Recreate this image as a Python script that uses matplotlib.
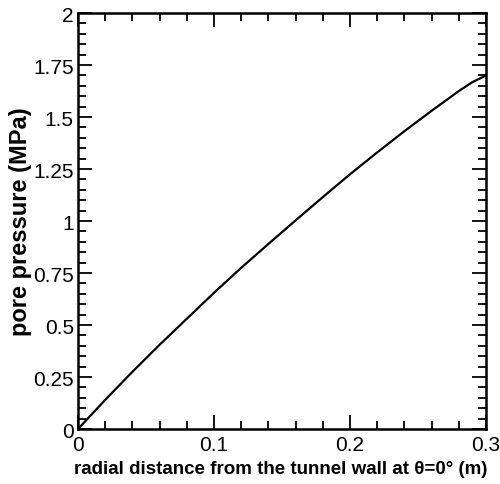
import numpy as np
import matplotlib
matplotlib.use('Agg')
import matplotlib.pyplot as plt
from matplotlib.ticker import MultipleLocator, FuncFormatter

# pore pressure profile
radial_dist = [0.0, 0.02, 0.04, 0.06, 0.08, 0.10, 0.12, 0.14, 0.16,
               0.18, 0.20, 0.22, 0.24, 0.26, 0.28, 0.29, 0.30]
pore_pressure = [0.0, 0.14, 0.275, 0.405, 0.53, 0.655, 0.775, 0.89, 1.003,
                 1.115, 1.225, 1.33, 1.432, 1.53, 1.625, 1.668, 1.70]

plt.rcParams['font.family'] = ['Liberation Sans', 'DejaVu Sans']

fig = plt.figure(figsize=(5.0, 4.85), dpi=100)
ax = fig.add_axes([0.156, 0.1134, 0.816, 0.8576])

ax.plot(radial_dist, pore_pressure, color='black', linewidth=1.6)

ax.set_xlim(0, 0.3)
ax.set_ylim(0, 2)
ax.xaxis.set_major_locator(MultipleLocator(0.1))
ax.xaxis.set_minor_locator(MultipleLocator(0.02))
ax.yaxis.set_major_locator(MultipleLocator(0.25))
ax.yaxis.set_minor_locator(MultipleLocator(0.05))
fmt = FuncFormatter(lambda v, p: '{:g}'.format(round(v, 3)))
ax.xaxis.set_major_formatter(fmt)
ax.yaxis.set_major_formatter(fmt)

ax.tick_params(which='both', direction='in', top=True, right=True,
               labelsize=15, width=1.3, colors='black')
ax.tick_params(which='major', length=10)
ax.tick_params(axis='x', which='major', pad=4)
ax.tick_params(axis='y', which='major', pad=3)
ax.tick_params(which='minor', length=6)
for s in ax.spines.values():
    s.set_linewidth(1.8)

ax.set_xlabel('radial distance from the tunnel wall at \u03b8=0\u00b0 (m)',
              fontsize=13.5, fontweight='bold')
ax.xaxis.set_label_coords(0.497, -0.094)
ax.xaxis.label.set_va('center')
ax.set_ylabel('pore pressure (MPa)', fontsize=17, fontweight='bold')
ax.yaxis.set_label_coords(-0.14, 0.5)
ax.yaxis.label.set_va('center')

plt.savefig('out.png', dpi=100)
